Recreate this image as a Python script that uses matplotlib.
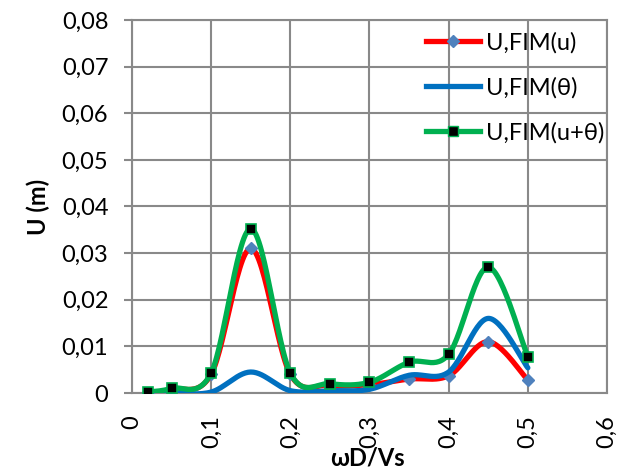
import numpy as np
import matplotlib
matplotlib.use("Agg")
import matplotlib.pyplot as plt
from matplotlib.lines import Line2D

x = [0.02, 0.05, 0.1, 0.15, 0.2, 0.25, 0.3, 0.35, 0.4, 0.45, 0.5]
u_fim_u = [0.0000, 0.0008, 0.0040, 0.0310, 0.0040, 0.0017, 0.0018, 0.0030, 0.0037, 0.0110, 0.0028]
u_fim_theta = [0.0000, 0.0000, 0.0002, 0.0045, 0.0005, 0.0005, 0.0008, 0.0038, 0.0045, 0.0160, 0.0054]
u_fim_u_theta = [0.0002, 0.0010, 0.0043, 0.0352, 0.0043, 0.0020, 0.0023, 0.0066, 0.0083, 0.0270, 0.0078]
labels = ["U,FIM(u)", "U,FIM(θ)", "U,FIM(u+θ)"]
xticks = [0, 0.1, 0.2, 0.3, 0.4, 0.5, 0.6]
yticks = [0, 0.01, 0.02, 0.03, 0.04, 0.05, 0.06, 0.07, 0.08]


def smooth(xs, ys, n=30):
    xs = np.asarray(xs, float)
    ys = np.asarray(ys, float)
    P = np.column_stack([xs, ys])
    out = [P[0]]
    for i in range(len(P) - 1):
        p0 = P[i - 1] if i > 0 else P[i]
        p1 = P[i]
        p2 = P[i + 1]
        p3 = P[i + 2] if i + 2 < len(P) else P[i + 1]
        c1 = p1 + (p2 - p0) / 6.0
        c2 = p2 - (p3 - p1) / 6.0
        t = np.linspace(0, 1, n)[1:, None]
        b = ((1 - t) ** 3) * p1 + 3 * ((1 - t) ** 2) * t * c1 + 3 * (1 - t) * t ** 2 * c2 + t ** 3 * p2
        out.extend(b)
    out = np.array(out)
    return out[:, 0], out[:, 1]


font = ["Lato", "DejaVu Sans"]
fs = 17
fig = plt.figure(figsize=(6.3, 4.71), dpi=100)
ax = fig.add_axes([0.2095, 0.1656, 0.754, 0.792])

red, blue, green = "#FF0000", "#0070C0", "#00B050"
mk_blue = "#4F81BD"
lw = 3.8

sx, sy = smooth(x, u_fim_u)
ax.plot(sx, sy, color=red, lw=lw, solid_capstyle="round", zorder=3)
ax.plot(x, u_fim_u, ls="none", marker="D", ms=6, mfc=mk_blue, mec=mk_blue, zorder=3.1)

sx, sy = smooth(x, u_fim_theta)
ax.plot(sx, sy, color=blue, lw=lw, solid_capstyle="round", zorder=4)

sx, sy = smooth(x, u_fim_u_theta)
ax.plot(sx, sy, color=green, lw=lw, solid_capstyle="round", zorder=5)
ax.plot(x, u_fim_u_theta, ls="none", marker="s", ms=6.5, mfc="black", mec=green, mew=1.2, zorder=5.1)

ax.set_xlim(0, 0.6)
ax.set_ylim(0, 0.08)
ax.set_xticks(xticks)
ax.set_yticks(yticks)
ax.set_xticklabels([("%g" % v).replace(".", ",") for v in xticks], rotation=90,
                   fontsize=fs, family=font)
ax.set_yticklabels([("%.2f" % v).replace(".", ",") if v != 0 else "0" for v in yticks],
                   fontsize=fs, family=font)
ax.grid(True, color="#898989", lw=1.5)
ax.set_axisbelow(True)
ax.tick_params(axis="x", length=0, pad=16)
ax.tick_params(axis="y", length=6, width=1.5, color="#898989", pad=11)
for s in ax.spines.values():
    s.set_color("#898989")
    s.set_linewidth(1.5)

ax.set_ylabel("U (m)", fontsize=fs, fontweight="bold", family=font, labelpad=8)
fig.text(0.584, 0.004, "ωD/Vs", fontsize=fs, fontweight="bold", family=font, ha="center", va="bottom")

handles = [
    Line2D([], [], color=red, lw=lw, marker="D", ms=6, mfc=mk_blue, mec=mk_blue),
    Line2D([], [], color=blue, lw=lw),
    Line2D([], [], color=green, lw=lw, marker="s", ms=6.5, mfc="black", mec=green),
]
leg = ax.legend(handles, labels, loc="upper left", bbox_to_anchor=(0.620, 0.968), frameon=False,
                prop={"family": font, "size": fs}, handlelength=2.25, handletextpad=0.25,
                labelspacing=1.0, borderaxespad=0, borderpad=0)

fig.savefig("out.png", dpi=100)
